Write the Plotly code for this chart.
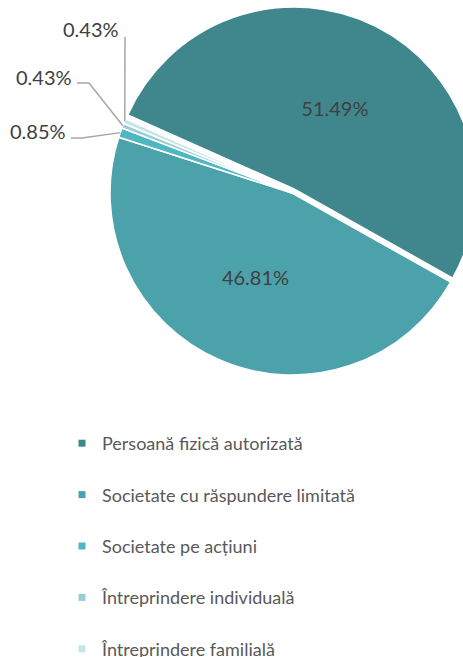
import math
import plotly.graph_objects as go

# ---- data ----
labels = ["Persoană fizică autorizată", "Societate cu răspundere limitată",
          "Societate pe acțiuni", "Întreprindere individuală", "Întreprindere familială"]
values = [51.49, 46.81, 0.85, 0.43, 0.43]
colors = ["#3F878D", "#4CA2AB", "#4FB6C2", "#97CED5", "#C6E5E9"]
pct_text = [f"{v:.2f}%" for v in values]

# ---- layout constants (pixels) ----
W, H = 500, 657
cx, cy, r = 292.0, 193.0, 182.0
pull_big = 0.025
rotation = -66.0
half = r * (1 + pull_big)

fig = go.Figure()
fig.add_trace(go.Pie(
    labels=labels, values=values, sort=False, direction="clockwise",
    rotation=rotation,
    marker=dict(colors=colors, line=dict(color="white", width=1.5)),
    pull=[pull_big, 0, 0, 0, 0],
    text=pct_text,
    texttemplate=["%{text}", "%{text}", "", "", ""],
    textposition="inside", insidetextorientation="horizontal",
    textfont=dict(family="Lato", size=20, color="#404040"),
    domain=dict(x=[(cx - half) / W, (cx + half) / W],
                y=[1 - (cy + half) / H, 1 - (cy - half) / H]),
    showlegend=False, hoverinfo="label+percent",
))

# legend entries (one group per category for spacing)
for lab, col in zip(labels, colors):
    fig.add_trace(go.Scatter(x=[None], y=[None], mode="markers", name=lab,
                             legendgroup=lab,
                             marker=dict(symbol="square", size=7, color=col)))

# outside labels for the small slices with leader lines
total = sum(values)
angles = []
acc = rotation
for v in values:
    span = v / total * 360
    angles.append(acc + span / 2)
    acc += span

label_pos = {2: (38, 131.5, [(71, 138), (82, 138)]),
             3: (44, 76.5, [(77, 83), (89, 83)]),
             4: (91, 29.5, [(125, 37)])}
shapes = []
annotations = []
for i, (tx, ty, pts) in label_pos.items():
    th = math.radians(angles[i])
    ex, ey = cx + r * math.sin(th), cy - r * math.cos(th)
    allpts = pts + [(ex, ey)]
    path = "M " + " L ".join(f"{x / W:.5f},{1 - y / H:.5f}" for x, y in allpts)
    shapes.append(dict(type="path", path=path, xref="paper", yref="paper",
                       line=dict(color="#A6A6A6", width=1.5)))
    annotations.append(dict(text=pct_text[i], x=tx / W, y=1 - ty / H,
                            xref="paper", yref="paper", showarrow=False,
                            xanchor="center", yanchor="middle",
                            font=dict(family="Lato", size=20, color="#404040")))

fig.update_layout(
    width=W, height=H, margin=dict(l=0, r=0, t=0, b=0, autoexpand=False),
    paper_bgcolor="white", plot_bgcolor="white",
    xaxis=dict(visible=False), yaxis=dict(visible=False),
    shapes=shapes, annotations=annotations,
    showlegend=True,
    legend=dict(x=62 / W, y=1 - 425 / H, xanchor="left", yanchor="top",
                tracegroupgap=25, font=dict(family="Lato", size=18, color="#595959"),
                bgcolor="rgba(0,0,0,0)"),
)

fig.write_html("out.html", config=dict(displayModeBar=False, responsive=False),
               post_script="document.body.style.margin='0';document.body.style.overflow='hidden';")
